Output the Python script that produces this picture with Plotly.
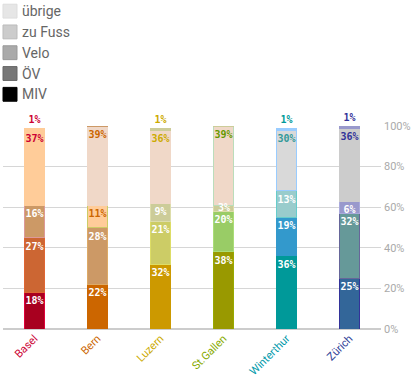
import plotly.graph_objects as go

cities = ["Basel", "Bern", "Luzern", "St.Gallen", "Winterthur", "Zürich"]
series = ["MIV", "ÖV", "Velo", "zu Fuss", "übrige"]

miv = [18, 22, 32, 38, 36, 25]
oev = [27, 28, 21, 20, 19, 32]
velo = [16, 11, 9, 3, 13, 6]
zufuss = [37, 39, 36, 39, 30, 36]
uebrige = [1, 1, 1, 1, 1, 1]
values = [miv, oev, velo, zufuss, uebrige]

city_colors = ["#CC0033", "#CC6600", "#CCAA00", "#88AA00", "#0099AA", "#334499"]
fill_colors = [
    ["#A8001F", "#CC6600", "#CC9900", "#999900", "#009999", "#336699"],
    ["#CC6633", "#CC9966", "#CCCC66", "#99CC66", "#3399CC", "#669999"],
    ["#CC9966", "#FFCC99", "#CCCC99", "#CCCC99", "#99CCCC", "#9999CC"],
    ["#FFCC99", "#F0D8C8", "#F0D8C8", "#F0D8C8", "#D9D9D9", "#CCCCCC"],
    ["#FFCC99", "#CC9966", "#CCCC99", "#CCCC99", "#99CCFF", "#9999CC"],
]
line_colors = [
    ["#E0003A", "#CC6600", "#CC9900", "#99AA00", "#009999", "#333399"],
    ["#E06633", "#DDAA66", "#DDDD66", "#AADD77", "#3399CC", "#666699"],
    ["#DD9999", "#CCCC66", "#DDDDAA", "#DDDDAA", "#66CCCC", "#AAAADD"],
    ["#FFCC99", "#F0D8C8", "#F0D8C8", "#BBDDBB", "#99CCFF", "#CCCCCC"],
    ["#FFCC99", "#CC9966", "#CCCC99", "#CCCC99", "#99CCFF", "#9999CC"],
]
text_colors = [
    ["white"] * 6,
    ["white"] * 6,
    ["white", "#CC6600", "white", "white", "white", "white"],
    ["#CC0033", "#CC6600", "#CCAA00", "#669900", "#339999", "#333399"],
    ["#CC0033", "#CC6600", "#CCAA00", "#669900", "#009999", "#333399"],
]

legend_names = ["übrige", "zu Fuss", "Velo", "ÖV", "MIV"]
legend_colors = ["#E6E6E6", "#CCCCCC", "#AAAAAA", "#777777", "#000000"]
legend_borders = ["#DDDDDD", "#BBBBBB", "#999999", "#666666", "#000000"]

label_font = dict(family="DejaVu Sans Mono", size=10, weight="bold")
SMALL = 5  # segments below this share get their label as an annotation

fig = go.Figure()
annotations = []
base = [0] * len(cities)
for i, name in enumerate(series):
    last = i == len(series) - 1
    texts = []
    for j, v in enumerate(values[i]):
        if not last and v < SMALL:
            texts.append("")
            annotations.append(dict(
                x=cities[j], y=base[j] + v, xref="x", yref="y",
                text=f"{v}%", showarrow=False, yanchor="middle", yshift=-2,
                font=dict(color=text_colors[i][j], **label_font),
            ))
        else:
            texts.append(f"{v}%")
    fig.add_trace(go.Bar(
        x=cities, y=values[i], name=name, showlegend=False,
        marker=dict(color=fill_colors[i], line=dict(color=line_colors[i], width=1)),
        text=texts,
        textposition="outside" if last else "inside",
        insidetextanchor="end",
        textangle=0,
        constraintext="none",
        cliponaxis=False,
        textfont=dict(color=text_colors[i], **label_font),
        hoverinfo="skip",
    ))
    base = [b + v for b, v in zip(base, values[i])]

W, H = 416, 381
ml, mr, mt, mb = 3, 35, 126, 50
pw, ph = W - ml - mr, H - mt - mb

def px2paper(x, y):
    return (x - ml) / pw, (H - mb - y) / ph

shapes = []
for k, (nm, col, bc) in enumerate(zip(legend_names, legend_colors, legend_borders)):
    top = 3 + k * 21
    x0, y0 = px2paper(3, top)
    x1, y1 = px2paper(17, top + 14)
    shapes.append(dict(type="rect", xref="paper", yref="paper", x0=x0, x1=x1, y0=y1, y1=y0,
                       fillcolor=col, line=dict(color=bc, width=1), layer="above"))
    tx, ty = px2paper(20, top + 7)
    annotations.append(dict(xref="paper", yref="paper", x=tx, y=ty, xanchor="left", yanchor="middle",
                            text=nm, showarrow=False,
                            font=dict(family="Roboto", size=14, color="#666666")))

fig.update_layout(
    width=W, height=H,
    margin=dict(l=ml, r=mr, t=mt, b=mb),
    barmode="stack", bargap=0.68,
    plot_bgcolor="white", paper_bgcolor="white",
    showlegend=False,
    shapes=shapes, annotations=annotations,
    xaxis=dict(
        tickmode="array", tickvals=cities,
        ticktext=[f'<span style="color:{c}">{t}</span>' for t, c in zip(cities, city_colors)],
        tickangle=-45, tickfont=dict(family="Roboto", size=11),
        showgrid=False, showline=False, zeroline=False, ticks="", ticklen=0,
    ),
    yaxis=dict(
        side="right", range=[0, 100], dtick=20, ticksuffix="%",
        tickfont=dict(family="Roboto", size=11, color="#AAAAAA"),
        gridcolor="#D6D6D6", gridwidth=1,
        zeroline=True, zerolinecolor="#CCCCCC", zerolinewidth=2,
        showline=False, ticks="", ticklen=0, ticklabelstandoff=2,
    ),
)

fig.write_html("out.html", config={"displayModeBar": False},
               post_script="document.body.style.margin='0';document.body.style.overflow='hidden';")
